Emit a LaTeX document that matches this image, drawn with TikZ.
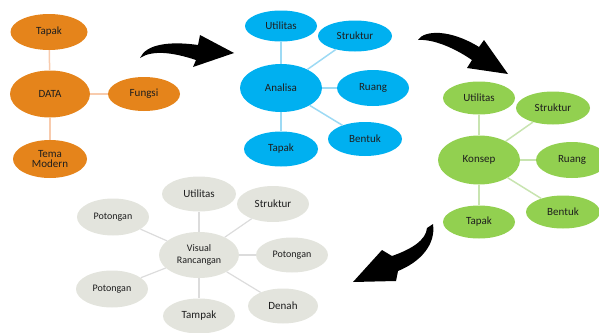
\documentclass[tikz,border=0pt]{standalone}
\usepackage{fontspec}
\setmainfont{Carlito}
\usetikzlibrary{shapes.geometric}
\definecolor{orF}{HTML}{E5841B}
\definecolor{orL}{HTML}{F8CBAD}
\definecolor{blF}{HTML}{00B0F0}
\definecolor{blL}{HTML}{9DDAF4}
\definecolor{grF}{HTML}{92D050}
\definecolor{grL}{HTML}{C8E4B0}
\definecolor{gyF}{HTML}{E3E4DD}
\definecolor{gyL}{HTML}{DCDCDC}
\definecolor{txt}{HTML}{1E1E1E}
\begin{document}
\begin{tikzpicture}[x=1pt,y=-1pt,
  bub/.style={ellipse, inner sep=0pt, text=txt, align=center, font=\fontsize{11}{12}\selectfont},
  small/.style={font=\fontsize{10}{11.5}\selectfont},
  sz/.style 2 args={minimum width=#1pt, minimum height=#2pt},
  orb/.style={bub, fill=orF},
  blb/.style={bub, fill=blF},
  grb/.style={bub, fill=grF},
  gyb/.style={bub, fill=gyF},
  orl/.style={draw=orL, line width=1.5pt},
  bll/.style={draw=blL, line width=1.5pt},
  grl/.style={draw=grL, line width=1.5pt},
  gyl/.style={draw=gyL, line width=1.2pt},
  bigarrow/.style={fill=black, draw=none}
]
\useasboundingbox (0,0) rectangle (599,332);

% ---------- orange group ----------
\node[orb, sz={77}{36}] (oTapak) at (49,32) {Tapak};
\node[orb, sz={80}{47}] (oData) at (50,94) {DATA};
\node[orb, sz={72}{34}] (oFungsi) at (144,94) {Fungsi};
\node[orb, sz={74}{38}] (oTema) at (50,159) {Tema\\[-2pt]Modern};
\draw[orl] (oData) -- (oTapak);
\draw[orl] (oData) -- (oFungsi);
\draw[orl] (oData) -- (oTema);

% ---------- blue group ----------
\node[blb, sz={72}{31}] (bUtil) at (281,26) {Utilitas};
\node[blb, sz={74}{31}] (bStruk) at (355,36) {Struktur};
\node[blb, sz={82}{48}] (bAna) at (281,88) {Analisa};
\node[blb, sz={72}{36}] (bRuang) at (373,88) {Ruang};
\node[blb, sz={74}{34}] (bBentuk) at (365,139) {Bentuk};
\node[blb, sz={74}{35}] (bTapak) at (281,149) {Tapak};
\draw[bll] (bAna) -- (bUtil);
\draw[bll] (bAna) -- (bStruk);
\draw[bll] (bAna) -- (bRuang);
\draw[bll] (bAna) -- (bBentuk);
\draw[bll] (bAna) -- (bTapak);

% ---------- green group ----------
\node[grb, sz={72}{33}] (gUtil) at (479,98) {Utilitas};
\node[grb, sz={74}{33}] (gStruk) at (553,108) {Struktur};
\node[grb, sz={82}{49}] (gKon) at (479,160) {Konsep};
\node[grb, sz={72}{36}] (gRuang) at (572,160) {Ruang};
\node[grb, sz={74}{33}] (gBentuk) at (563,212) {Bentuk};
\node[grb, sz={72}{33}] (gTapak) at (479,222) {Tapak};
\draw[grl] (gKon) -- (gUtil);
\draw[grl] (gKon) -- (gStruk);
\draw[grl] (gKon) -- (gRuang);
\draw[grl] (gKon) -- (gBentuk);
\draw[grl] (gKon) -- (gTapak);

% ---------- grey group ----------
\node[gyb, sz={74}{35}] (vUtil) at (199,194) {Utilitas};
\node[gyb, sz={72}{36}] (vStruk) at (273,204) {Struktur};
\node[gyb, small, sz={72}{37}] (vPot1) at (113,217) {Potongan};
\node[gyb, small, sz={80}{46}] (vVis) at (199,255) {Visual\\Rancangan};
\node[gyb, small, sz={72}{35}] (vPot2) at (292,255) {Potongan};
\node[gyb, small, sz={72}{37}] (vPot3) at (112,289) {Potongan};
\node[gyb, sz={72}{35}] (vTampak) at (199,316) {Tampak};
\node[gyb, sz={70}{35}] (vDenah) at (283,306) {Denah};
\draw[gyl] (vVis) -- (vUtil);
\draw[gyl] (vVis) -- (vStruk);
\draw[gyl] (vVis) -- (vPot1);
\draw[gyl] (vVis) -- (vPot2);
\draw[gyl] (vVis) -- (vPot3);
\draw[gyl] (vVis) -- (vTampak);
\draw[gyl] (vVis) -- (vDenah);

% ---------- curved block arrows ----------
\fill[bigarrow] (140,58) .. controls (146,44) and (170,41) .. (198,45)
  -- (200,35) -- (234,53) -- (193,67) -- (196,60)
  .. controls (172,52) and (152,50) .. (140,58) -- cycle;
\fill[bigarrow] (418,40) .. controls (424,30) and (450,29) .. (479,47)
  -- (484,40) -- (508,74) -- (467,68) -- (472,60)
  .. controls (450,45) and (430,39) .. (418,40) -- cycle;
\fill[bigarrow] (433,224) .. controls (436,245) and (420,262) .. (398,271)
  -- (396,281) -- (353,282) -- (382,250) -- (392,256)
  .. controls (412,249) and (426,240) .. (427,228) -- cycle;
\end{tikzpicture}
\end{document}
